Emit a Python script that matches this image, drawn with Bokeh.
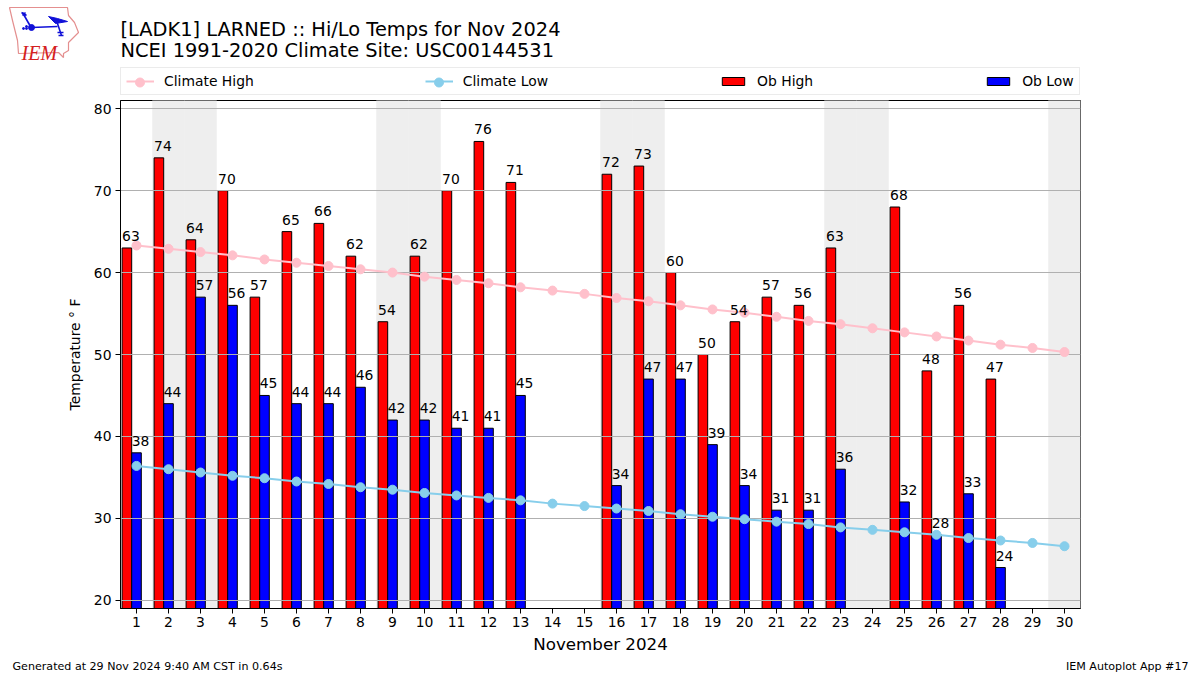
from bokeh.plotting import figure
from bokeh.layouts import column
from bokeh.models import (Range1d, FixedTicker, Legend, LegendItem, Label, ColumnDataSource)
from bokeh.core.properties import value
from bokeh.embed import file_html
from bokeh.resources import INLINE

days = list(range(1, 31))
ob_high = [63, 74, 64, 70, 57, 65, 66, 62, 54, 62, 70, 76, 71, None, None, 72, 73, 60, 50, 54, 57, 56, 63, None, 68, 48, 56, 47, None, None]
ob_low = [38, 44, 57, 56, 45, 44, 44, 46, 42, 42, 41, 41, 45, None, None, 34, 47, 47, 39, 34, 31, 31, 36, None, 32, 28, 33, 24, None, None]
climate_high = [63.3, 62.9, 62.5, 62.1, 61.6, 61.2, 60.8, 60.4, 60.0, 59.5, 59.1, 58.7, 58.2, 57.8, 57.4, 56.9, 56.5, 56.0, 55.5, 55.1, 54.6, 54.1, 53.7, 53.2, 52.7, 52.2, 51.7, 51.2, 50.8, 50.3]
climate_low = [36.4, 36.0, 35.6, 35.2, 34.9, 34.5, 34.2, 33.8, 33.5, 33.1, 32.8, 32.5, 32.2, 31.8, 31.5, 31.2, 30.9, 30.5, 30.2, 29.9, 29.6, 29.3, 28.9, 28.6, 28.3, 28.0, 27.6, 27.3, 27.0, 26.6]
weekend_days = [2, 3, 9, 10, 16, 17, 23, 24, 30]
y_ticks = [20, 30, 40, 50, 60, 70, 80]
title_lines = ["[LADK1] LARNED :: Hi/Lo Temps for Nov 2024", "NCEI 1991-2020 Climate Site: USC00144531"]
x_label = "November 2024"
y_label = "Temperature \u00b0 F"
footer_left = "Generated at 29 Nov 2024 9:40 AM CST in 0.64s"
footer_right = "IEM Autoplot App #17"

FONT = "DejaVu Sans"
HEAD_H = 99
FOOT_H = 18
TOTAL_H = 675


def strip(height, y_top):
    """Figure whose data units are the page's own pixels."""
    s = figure(width=1200, height=height, output_backend="svg", toolbar_location=None,
               x_range=Range1d(0, 1200), y_range=Range1d(y_top + height, y_top),
               x_axis_location=None, y_axis_location=None, min_border=0, frame_align=False)
    s.outline_line_color = None
    s.grid.visible = False
    return s


# ---- main plot
p = figure(width=1200, height=TOTAL_H - HEAD_H - FOOT_H, output_backend="svg", toolbar_location=None,
           x_range=Range1d(0.5, 30.5), y_range=Range1d(19, 81), frame_align=False,
           min_border_left=120, min_border_right=120, min_border_top=1, min_border_bottom=49)
p.background_fill_color = "white"
p.outline_line_color = "black"
p.outline_line_width = 1

p.vbar(x=weekend_days, width=1, bottom=19, top=81, fill_color="#eeeeee", line_color="#eeeeee",
       line_width=0.5, level="image")

hi_days = [d for d, v in zip(days, ob_high) if v is not None]
hi_vals = [v for v in ob_high if v is not None]
lo_days = [d for d, v in zip(days, ob_low) if v is not None]
lo_vals = [v for v in ob_low if v is not None]

p.vbar(x=[d - 0.3 for d in hi_days], width=0.3, bottom=0, top=hi_vals, fill_color="red",
       line_color="black", line_width=1, level="image")
p.vbar(x=lo_days, width=0.3, bottom=0, top=lo_vals, fill_color="blue",
       line_color="black", line_width=1, level="image")

p.xgrid.visible = False
p.ygrid.ticker = FixedTicker(ticks=y_ticks)
p.ygrid.grid_line_color = "#b0b0b0"
p.ygrid.grid_line_width = 1
p.ygrid.level = "underlay"

p.line(days, climate_high, line_color="pink", line_width=2)
p.scatter(days, climate_high, size=9, fill_color="pink", line_color="pink")
p.line(days, climate_low, line_color="skyblue", line_width=2)
p.scatter(days, climate_low, size=9, fill_color="skyblue", line_color="skyblue")

for xs, vals, off in ((hi_days, hi_vals, 0.45), (lo_days, lo_vals, 0.15)):
    src = ColumnDataSource(dict(x=[d - off for d in xs], y=vals, t=[str(v) for v in vals]))
    p.text(x="x", y="y", text="t", source=src, text_font=value(FONT), text_font_size="13.9px",
           text_color="black", text_align="left", text_baseline="bottom", y_offset=-7)

p.xaxis.ticker = FixedTicker(ticks=days)
p.yaxis.ticker = FixedTicker(ticks=y_ticks)
for ax in (p.xaxis[0], p.yaxis[0]):
    ax.major_label_text_font = FONT
    ax.major_label_text_font_size = "13.9px"
    ax.major_label_text_color = "black"
    ax.major_tick_out = 5
    ax.major_tick_in = 0
    ax.minor_tick_line_color = None
    ax.axis_line_color = "black"
    ax.major_tick_line_color = "black"
    ax.axis_label_text_font = FONT
    ax.axis_label_text_font_style = "normal"
    ax.axis_label_text_color = "black"
p.xaxis[0].axis_label = x_label
p.xaxis[0].axis_label_text_font_size = "16.7px"
p.xaxis[0].axis_label_standoff = 4
p.xaxis[0].major_label_standoff = 3
p.yaxis[0].axis_label = y_label
p.yaxis[0].axis_label_text_font_size = "13.9px"
p.yaxis[0].axis_label_standoff = 8
p.yaxis[0].major_label_standoff = 4

# ---- header: logo, title, legend
h = strip(HEAD_H, 0)

logo_x = [9, 67, 68, 74, 78, 68, 68, 63, 63, 58, 18, 17, 12]
logo_y = [7, 7, 15, 22, 32, 42, 50, 53, 57, 52, 53, 40, 20]
h.patch(logo_x, logo_y, fill_color="white", line_color="#e48f8f", line_width=1.2)
h.multi_line(xs=[[22, 30], [21, 26], [22, 25], [31, 57], [56, 61], [57, 63], [58, 63]],
             ys=[[12, 26], [12, 15], [15, 12], [27, 26], [20, 35], [32, 32], [35, 35]],
             line_color="#1010d8", line_width=1.6)
h.patch([48, 57, 67, 55], [16, 18, 21, 23], fill_color="#1010d8", line_color="#1010d8")
h.scatter([31], [27], size=6, fill_color="#1010d8", line_color="#1010d8")
h.scatter([23, 26, 26], [28, 26, 28], size=2, fill_color="#1010d8", line_color="#1010d8")
h.add_layout(Label(x=21, y=52, text="IEM", text_font="Liberation Serif", text_font_size="20px",
                   text_font_style="italic", text_color="#d42020", text_align="left",
                   text_baseline="alphabetic"))

for line_text, y in zip(title_lines, (29, 50)):
    h.add_layout(Label(x=120, y=y, text=line_text, text_font=FONT, text_font_size="19.4px",
                       text_color="black", text_align="left", text_baseline="middle"))

h.scatter([139.5], [82], size=9, fill_color="pink", line_color="pink")
h.scatter([438.5], [82], size=9, fill_color="skyblue", line_color="skyblue")

nan = float("nan")
lg_l1 = h.line([nan], [nan], line_color="pink", line_width=2)
lg_l2 = h.line([nan], [nan], line_color="skyblue", line_width=2)
lg_b1 = h.vbar(x=[nan], width=1, top=[nan], fill_color="red", line_color="black")
lg_b2 = h.vbar(x=[nan], width=1, top=[nan], fill_color="blue", line_color="black")
legend = Legend(items=[LegendItem(label="Climate High", renderers=[lg_l1]),
                       LegendItem(label="Climate Low", renderers=[lg_l2]),
                       LegendItem(label="Ob High", renderers=[lg_b1]),
                       LegendItem(label="Ob Low", renderers=[lg_b2])],
                orientation="horizontal", location=(120, 4), margin=0, padding=5, spacing=171,
                label_text_font=FONT, label_text_font_size="13.9px", label_text_color="black",
                glyph_width=28, glyph_height=10, label_standoff=10, label_height=12,
                border_line_color="#d8d8d8", border_line_width=1, background_fill_color=None)
h.add_layout(legend, "center")

# ---- footer
f = strip(FOOT_H, TOTAL_H - FOOT_H)
f.add_layout(Label(x=12, y=666, text=footer_left, text_font=FONT, text_font_size="11.1px",
                   text_color="black", text_align="left", text_baseline="middle"))
f.add_layout(Label(x=1188, y=666, text=footer_right, text_font=FONT, text_font_size="11.1px",
                   text_color="black", text_align="right", text_baseline="middle"))

page = column(h, p, f, spacing=0)
open("out.html", "w").write(file_html(page, INLINE))
